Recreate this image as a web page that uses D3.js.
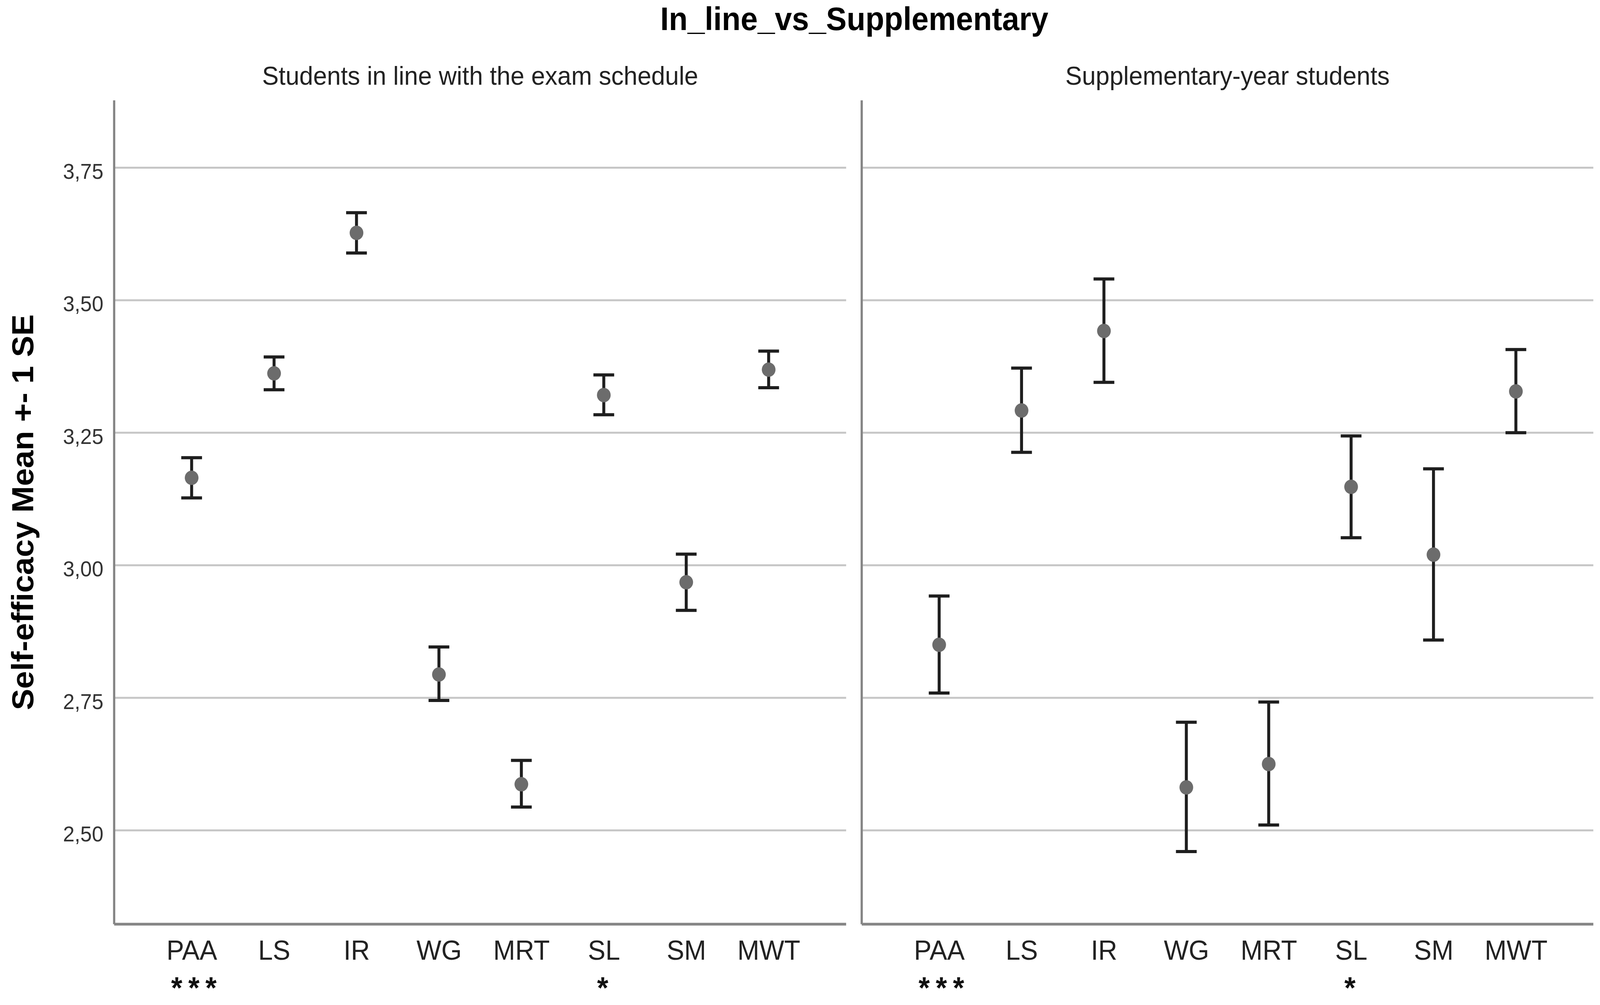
<!DOCTYPE html>
<html>
<head>
<meta charset="utf-8">
<script src="https://cdn.jsdelivr.net/npm/d3@7"></script>
<style>
  body { margin: 0; background: #fff; overflow: hidden; }
  svg { display: block; }
  text { font-family: "Liberation Sans", Arial, sans-serif; }
</style>
</head>
<body>
<svg id="stage"></svg>
<script>

// categories (self-efficacy subscales)
var categories = ["PAA", "LS", "IR", "WG", "MRT", "SL", "SM", "MWT"];

// students in line with the exam schedule: mean and mean +- 1 SE
var inLineMean = [3.165, 3.362, 3.627, 2.794, 2.587, 3.321, 2.968, 3.369];
var inLineLow  = [3.127, 3.331, 3.589, 2.745, 2.544, 3.284, 2.915, 3.335];
var inLineHigh = [3.203, 3.393, 3.665, 2.846, 2.632, 3.359, 3.021, 3.404];

// supplementary-year students
var suppMean = [2.850, 3.292, 3.442, 2.581, 2.625, 3.148, 3.020, 3.328];
var suppLow  = [2.759, 3.213, 3.345, 2.460, 2.510, 3.052, 2.859, 3.250];
var suppHigh = [2.942, 3.372, 3.540, 2.704, 2.742, 3.244, 3.182, 3.407];

// significance markers under the categories
var significance = ["***", "", "", "", "", "*", "", ""];

var yTicks = [2.50, 2.75, 3.00, 3.25, 3.50, 3.75];
var panelTitles = ["Students in line with the exam schedule", "Supplementary-year students"];
var chartTitle = "In_line_vs_Supplementary";
var yLabel = "Self-efficacy Mean +- 1 SE";

// drawing is done in a 4317 x 2574 frame, fitted to whatever the window gives
var W = 4317, H = 2574;
var svg = d3.select("#stage")
  .attr("width", window.innerWidth || W)
  .attr("height", window.innerHeight || H)
  .attr("viewBox", "0 0 " + W + " " + H)
  .attr("preserveAspectRatio", "none");

var top_y = 257, bottom_y = 2367;
var panels = [
  {x0: 308,  x1: 2283, title: panelTitles[0], mean: inLineMean, low: inLineLow, high: inLineHigh},
  {x0: 2325, x1: 4299, title: panelTitles[1], mean: suppMean, low: suppLow, high: suppHigh}
];

var y = d3.scaleLinear().domain([2.323, 3.877]).range([bottom_y, top_y]);
var fmt = function(v){ return d3.format(".2f")(v).replace(".", ","); };

var axisColor = "#858585";
var gridColor = "#c6c6c6";

svg.append("rect").attr("width", W).attr("height", H).style("fill", "#fff");

// title
svg.append("text")
  .attr("x", 2305).attr("y", 77)
  .attr("text-anchor", "middle")
  .style("font-size", "83px").style("font-weight", "bold").style("fill", "#000")
  .text(chartTitle);

// y axis label
svg.append("text")
  .attr("transform", "translate(90," + ((top_y + bottom_y) / 2) + ") rotate(-90)")
  .attr("text-anchor", "middle")
  .style("font-size", "82px").style("font-weight", "bold").style("fill", "#000")
  .text(yLabel);

// y tick labels (only left of the first panel)
var yAxis = svg.append("g")
  .attr("transform", "translate(" + panels[0].x0 + ",0)")
  .call(d3.axisLeft(y).tickValues(yTicks).tickFormat(fmt).tickSize(0).tickPadding(29));
yAxis.select(".domain").remove();
yAxis.selectAll("text")
  .attr("dy", "0.5em")
  .style("font-size", "56px").style("fill", "#333")
  .style("font-family", "'Liberation Sans', Arial, sans-serif");

panels.forEach(function(p){

  var x = d3.scalePoint().domain(categories).range([p.x0, p.x1]).padding(0.94);
  var g = svg.append("g");

  // gridlines
  g.selectAll("line.grid").data(yTicks).enter().append("line")
    .attr("class", "grid")
    .attr("x1", p.x0).attr("x2", p.x1)
    .attr("y1", function(d){ return y(d); }).attr("y2", function(d){ return y(d); })
    .style("stroke", gridColor).style("stroke-width", 5);

  // axes lines
  g.append("line")
    .attr("x1", p.x0).attr("x2", p.x0).attr("y1", top_y).attr("y2", bottom_y)
    .style("stroke", axisColor).style("stroke-width", 6);
  g.append("line")
    .attr("x1", p.x0).attr("x2", p.x1).attr("y1", bottom_y).attr("y2", bottom_y)
    .style("stroke", axisColor).style("stroke-width", 7);

  // panel title
  g.append("text")
    .attr("x", (p.x0 + p.x1) / 2).attr("y", 217)
    .attr("text-anchor", "middle")
    .style("font-size", "67px").style("fill", "#222")
    .text(p.title);

  // category labels
  var xAxis = g.append("g")
    .attr("transform", "translate(0," + bottom_y + ")")
    .call(d3.axisBottom(x).tickSize(0).tickPadding(41));
  xAxis.select(".domain").remove();
  xAxis.selectAll("text")
    .style("font-size", "71px").style("fill", "#222")
    .style("font-family", "'Liberation Sans', Arial, sans-serif");

  // significance stars (kept inside the bottom edge)
  var sig = categories.map(function(c, i){ return {cat: c, s: significance[i]}; })
    .filter(function(d){ return d.s !== ""; });
  g.selectAll("text.sig").data(sig).enter().append("text")
    .attr("class", "sig")
    .attr("x", function(d){ return x(d.cat) + 8 + (d.s.length > 1 ? 6 : -3); })
    .attr("y", 2557)
    .attr("text-anchor", "middle")
    .style("font-size", "78px").style("font-weight", "bold").style("fill", "#111")
    .style("letter-spacing", "16px")
    .text(function(d){ return d.s; });

  var rows = categories.map(function(c, i){
    return {cat: c, mean: p.mean[i], low: p.low[i], high: p.high[i]};
  });

  // error bars
  var bars = g.selectAll("g.bar").data(rows).enter().append("g").attr("class", "bar");
  bars.append("line")
    .attr("x1", function(d){ return x(d.cat); }).attr("x2", function(d){ return x(d.cat); })
    .attr("y1", function(d){ return y(d.low); }).attr("y2", function(d){ return y(d.high); })
    .style("stroke", "#1e1e1e").style("stroke-width", 8);
  bars.append("line")
    .attr("x1", function(d){ return x(d.cat) - 28; }).attr("x2", function(d){ return x(d.cat) + 28; })
    .attr("y1", function(d){ return y(d.high); }).attr("y2", function(d){ return y(d.high); })
    .style("stroke", "#1e1e1e").style("stroke-width", 8);
  bars.append("line")
    .attr("x1", function(d){ return x(d.cat) - 28; }).attr("x2", function(d){ return x(d.cat) + 28; })
    .attr("y1", function(d){ return y(d.low); }).attr("y2", function(d){ return y(d.low); })
    .style("stroke", "#1e1e1e").style("stroke-width", 8);

  // means
  bars.append("circle")
    .attr("cx", function(d){ return x(d.cat); })
    .attr("cy", function(d){ return y(d.mean); })
    .attr("r", 18.5)
    .style("fill", "#6c6c6c");
});

</script>
</body>
</html>
